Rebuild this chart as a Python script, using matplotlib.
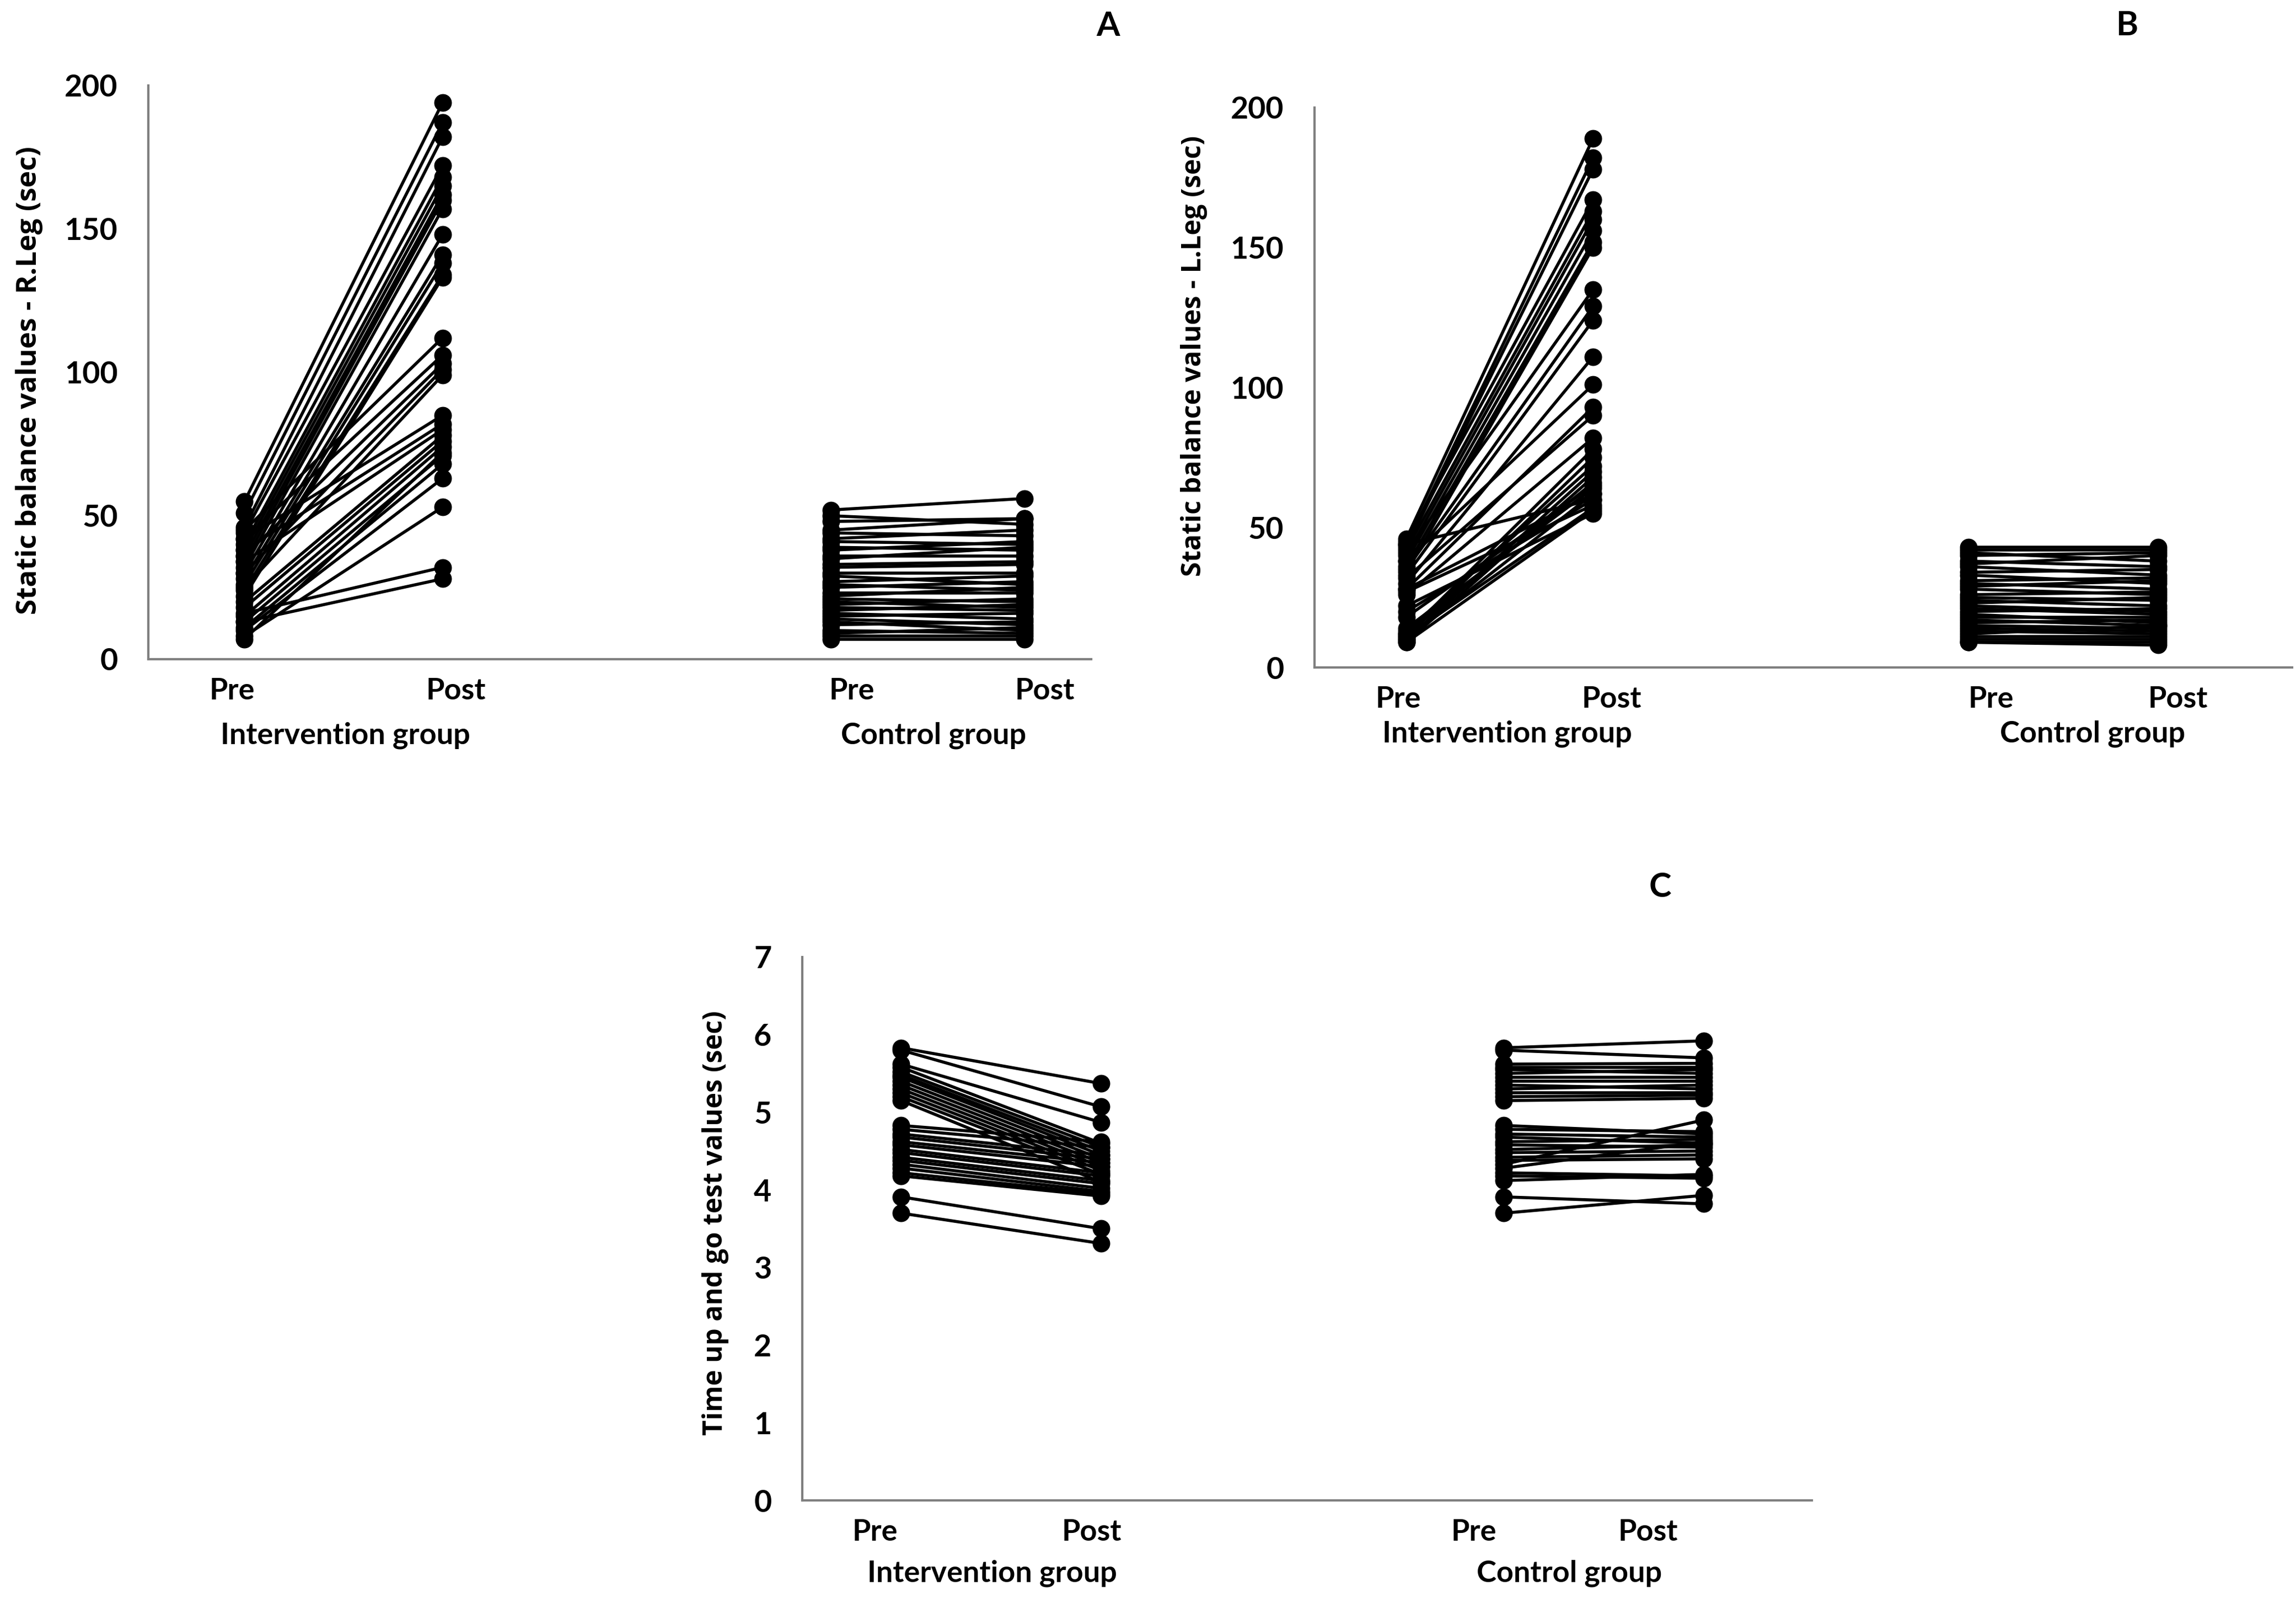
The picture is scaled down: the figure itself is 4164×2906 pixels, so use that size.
import matplotlib
matplotlib.use("Agg")
import matplotlib.pyplot as plt

# ---- data (one pair = one subject: pre, post) ----
# A: static balance, right leg (sec)
a_int_pre = [55, 51, 46, 44, 40, 38, 36, 34, 32, 30, 28, 26, 24, 22, 45, 42,
             36, 30, 25, 42, 38, 34, 20, 18, 15, 13, 11, 10, 8, 16, 13, 7]
a_int_post = [194, 187, 182, 172, 168, 165, 162, 160, 157, 148, 141, 138, 134, 133, 112, 106,
              103, 101, 99, 85, 82, 80, 78, 76, 74, 71, 68, 63, 53, 32, 28, 72]
a_con_pre = [52, 50, 48, 45, 44, 42, 41, 39, 38, 36, 35, 33, 32, 30, 29, 27, 26,
             25, 23, 22, 21, 20, 19, 18, 17, 16, 15, 14, 13, 12, 10, 9, 8, 7]
a_con_post = [56, 47, 49, 49, 43, 45, 40, 38, 41, 36, 39, 34, 33, 30, 26, 29, 24,
              27, 23, 25, 20, 18, 21, 17, 19, 14, 16, 12, 10, 13, 9, 11, 8, 7]

# B: static balance, left leg (sec)
b_int_pre = [46, 44, 43, 45, 42, 40, 38, 36, 34, 41, 35, 33, 30, 38, 28, 32, 26,
             44, 28, 27, 12, 11, 13, 10, 9, 12, 14, 10, 20, 11, 9, 22, 18]
b_int_post = [189, 182, 178, 167, 163, 160, 156, 152, 150, 135, 129, 124, 111, 101, 93, 90, 82,
              60, 62, 58, 78, 75, 72, 70, 68, 66, 64, 62, 60, 57, 56, 55, 65]
b_con_pre = [43, 42, 41, 40, 38, 37, 36, 34, 33, 31, 30, 29, 28, 26, 25, 24,
             23, 22, 21, 20, 19, 18, 17, 16, 15, 14, 13, 12, 11, 10, 9, 9]
b_con_post = [43, 42, 38, 41, 36, 40, 33, 35, 30, 32, 28, 31, 26, 27, 24, 22,
              25, 20, 19, 21, 16, 18, 15, 17, 14, 13, 12, 15, 11, 10, 9, 8]

# C: timed up and go (sec)
c_int_pre = [5.83, 5.80, 5.62, 5.58, 5.52, 5.48, 5.45, 5.40, 5.35, 5.30, 5.25, 5.20, 5.15,
             4.83, 4.78, 4.72, 4.68, 4.62, 4.58, 4.52, 4.48, 4.42, 4.38, 4.33, 4.28,
             4.22, 4.18, 3.91, 3.70]
c_int_post = [5.37, 5.07, 4.87, 4.60, 4.55, 4.50, 4.45, 4.40, 4.35, 4.30, 4.25, 4.20, 4.10,
              4.62, 4.55, 4.45, 4.40, 4.35, 4.30, 4.22, 4.18, 4.12, 4.08, 4.02, 3.98,
              3.95, 3.92, 3.50, 3.31]
c_con_pre = [5.83, 5.80, 5.62, 5.58, 5.55, 5.50, 5.45, 5.40, 5.35, 5.30, 5.25, 5.20, 5.15,
             4.83, 4.78, 4.72, 4.68, 4.62, 4.58, 4.52, 4.48, 4.42, 4.38, 4.33, 4.28,
             4.22, 4.18, 4.12, 3.91, 3.70]
c_con_post = [5.92, 5.70, 5.63, 5.58, 5.50, 5.55, 5.45, 5.40, 5.30, 5.35, 5.25, 5.22, 5.18,
              4.72, 4.75, 4.68, 4.60, 4.65, 4.55, 4.58, 4.50, 4.45, 4.40, 4.90, 4.62,
              4.18, 4.15, 4.20, 3.82, 3.93]

tick_names = ["Pre", "Post", "Pre", "Post"]
group_names = ["Intervention group", "Control group"]

ylabels = ["Static balance values - R.Leg (sec)",
           "Static balance values - L.Leg (sec)",
           "Time up and go test values (sec)"]
letters = ["A", "B", "C"]

tick_font = "Lato"
label_font = "Open Sans"

fig = plt.figure(figsize=(41.64, 29.06), dpi=100)

# per panel: axes rect, marker x (frac), tick label x (frac), group label x, group y,
# y range, ylabel pos, letter pos
panels = [
    dict(rect=[0.0646, 0.5888, 0.4107, 0.3579],
         px=[0.102, 0.312, 0.724, 0.929], lx=[0.089, 0.326, 0.746, 0.951],
         gx=[0.209, 0.833], gy=-0.133,
         ylim=(0, 200), yticks=[0, 50, 100, 150, 200],
         data=(a_int_pre, a_int_post, a_con_pre, a_con_post),
         ylab=(0.0127, 0.7626), ylsize=37, let=(0.4827, 0.9838)),
    dict(rect=[0.5725, 0.5836, 0.4258, 0.3493],
         px=[0.094, 0.285, 0.669, 0.863], lx=[0.086, 0.304, 0.692, 0.883],
         gx=[0.197, 0.796], gy=-0.118,
         ylim=(0, 200), yticks=[0, 50, 100, 150, 200],
         data=(b_int_pre, b_int_post, b_con_pre, b_con_post),
         ylab=(0.520, 0.778), ylsize=35, let=(0.9263, 0.9842)),
    dict(rect=[0.3494, 0.0640, 0.4397, 0.3390],
         px=[0.098, 0.296, 0.695, 0.893], lx=[0.072, 0.287, 0.665, 0.838],
         gx=[0.188, 0.760], gy=-0.134,
         ylim=(0, 7), yticks=[0, 1, 2, 3, 4, 5, 6, 7],
         data=(c_int_pre, c_int_post, c_con_pre, c_con_post),
         ylab=(0.3117, 0.237), ylsize=35, let=(0.7231, 0.4467)),
]

for i, p in enumerate(panels):
    ax = fig.add_axes(p["rect"])
    int_pre, int_post, con_pre, con_post = p["data"]
    for pre, post in zip(int_pre, int_post):
        ax.plot([p["px"][0], p["px"][1]], [pre, post], "-o", color="black",
                lw=4, ms=22, solid_capstyle="round")
    for pre, post in zip(con_pre, con_post):
        ax.plot([p["px"][2], p["px"][3]], [pre, post], "-o", color="black",
                lw=4, ms=22, solid_capstyle="round")

    ax.set_xlim(0, 1)
    ax.set_ylim(*p["ylim"])
    ax.set_yticks(p["yticks"])
    ax.set_yticklabels([str(v) for v in p["yticks"]], fontfamily=tick_font,
                       fontweight="bold", fontsize=40)
    ax.set_xticks(p["lx"])
    ax.set_xticklabels(tick_names, fontfamily=tick_font, fontweight="bold", fontsize=39)
    ax.tick_params(axis="x", length=0, pad=24)
    ax.tick_params(axis="y", length=0, pad=40)

    for s in ["top", "right"]:
        ax.spines[s].set_visible(False)
    for s in ["left", "bottom"]:
        ax.spines[s].set_color("#7f7f7f")
        ax.spines[s].set_linewidth(3)

    for gx, name in zip(p["gx"], group_names):
        ax.text(gx, p["gy"], name, transform=ax.get_xaxis_transform(),
                ha="center", va="center", fontfamily=tick_font,
                fontweight="bold", fontsize=39)

    fig.text(p["ylab"][0], p["ylab"][1], ylabels[i], rotation=90,
             ha="center", va="center", fontfamily=label_font,
             fontweight="bold", fontsize=p["ylsize"])
    fig.text(p["let"][0], p["let"][1], letters[i], ha="center", va="center",
             fontfamily=tick_font, fontweight="bold", fontsize=44)

fig.savefig("out.png", dpi=100, facecolor="white")
